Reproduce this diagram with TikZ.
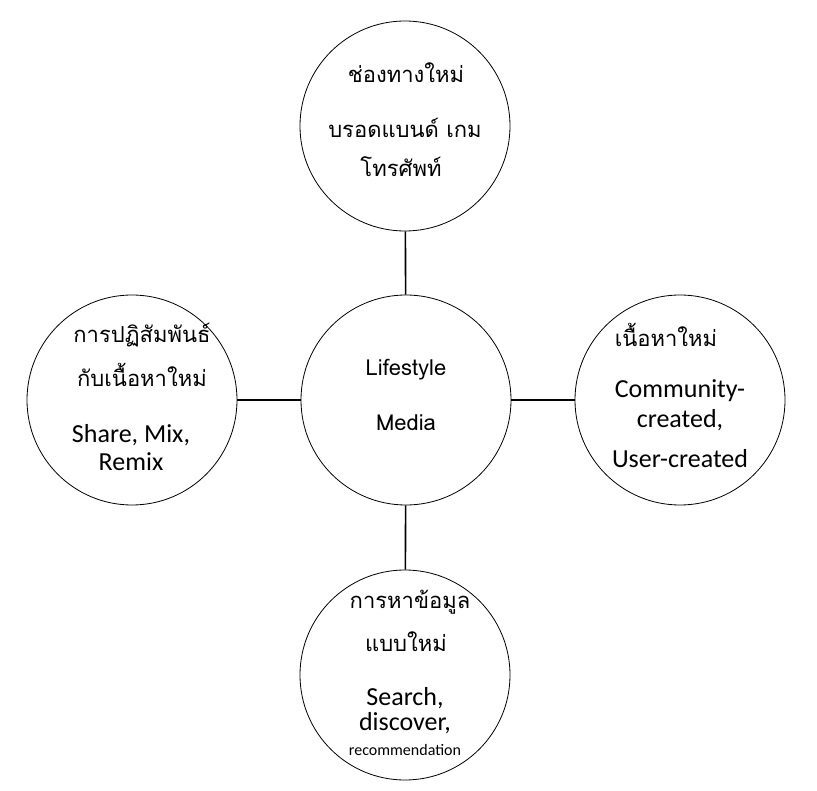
\documentclass[tikz,border=0pt]{standalone}
\usepackage{fontspec}
\setmainfont{Carlito}
\newfontfamily\thaifont[Script=Thai]{Loma}
\newfontfamily\centerfont[Script=Thai]{Loma}
\begin{document}
\begin{tikzpicture}[x=1pt,y=-1pt,
  bubble/.style={circle,draw=black,line width=0.8pt,minimum size=210pt,inner sep=0pt},
  link/.style={draw=black,line width=1.6pt},
  thai/.style={inner sep=0pt,font=\thaifont\fontsize{22}{26}\selectfont},
  lat/.style={inner sep=0pt,font=\fontsize{26}{30}\selectfont},
  small/.style={inner sep=0pt,font=\fontsize{16}{18}\selectfont},
  mid/.style={inner sep=0pt,font=\centerfont\fontsize{22}{24}\selectfont}]
\useasboundingbox (0,0) rectangle (817,791);
\fill[white] (0,0) rectangle (817,791);
\node[bubble] (c) at (406,400) {};
\node[bubble] (t) at (405,126) {};
\node[bubble] (l) at (132,400) {};
\node[bubble] (r) at (680,400) {};
\node[bubble] (b) at (405,675) {};
\draw[link] (c) -- (t);
\draw[link] (c) -- (l);
\draw[link] (c) -- (r);
\draw[link] (c) -- (b);
% center
\node[mid] (c1) at (406,370) {Lifestyle};
\node[mid] (c2) at (406,423) {Media};
% top
\node[thai] (t1) at (406,73) {ช่องทางใหม่};
\node[thai] (t2) at (405,128) {บรอดแบนด์ เกม};
\node[thai] (t3) at (401,167) {โทรศัพท์};
% left
\node[thai] (l1) at (142,335) {การปฏิสัมพันธ์};
\node[thai] (l2) at (142,375) {กับเนื้อหาใหม่};
\node[lat] (l3) at (131,435) {Share, Mix,};
\node[lat] (l4) at (131,462) {Remix};
% right
\node[thai] (r1) at (666,335) {เนื้อหาใหม่};
\node[lat] (r2) at (680,391) {Community-};
\node[lat] (r3) at (680,420) {created,};
\node[lat] (r4) at (680,459) {User-created};
% bottom
\node[thai] (b1) at (410,602) {การหาข้อมูล};
\node[thai] (b2) at (406,642) {แบบใหม่};
\node[lat] (b3) at (405,698) {Search,};
\node[lat] (b4) at (405,723) {discover,};
\node[small] (b5) at (405,750) {recommendation};
\end{tikzpicture}
\end{document}
